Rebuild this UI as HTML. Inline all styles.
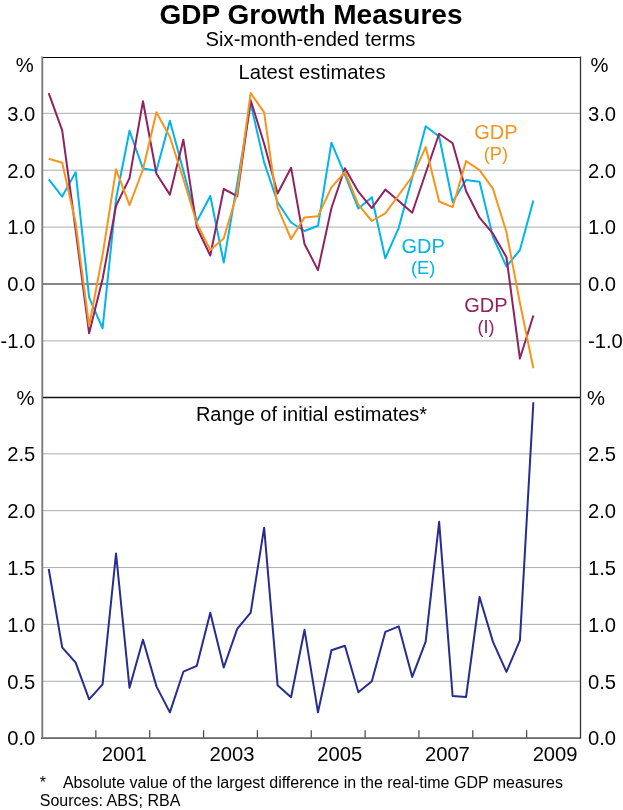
<!DOCTYPE html>
<html><head><meta charset="utf-8"><title>GDP Growth Measures</title>
<style>
html,body{margin:0;padding:0;background:#fff;}
body{width:623px;height:810px;overflow:hidden;}
svg{display:block;font-family:"Liberation Sans", sans-serif;will-change:transform;}
</style></head><body>
<svg width="623" height="810" viewBox="0 0 623 810">
<rect width="623" height="810" fill="#fff"/>
<line x1="42.0" x2="580.5" y1="113.30" y2="113.30" stroke="#A9ADB1" stroke-width="1.0"/>
<line x1="42.0" x2="580.5" y1="170.20" y2="170.20" stroke="#A9ADB1" stroke-width="1.0"/>
<line x1="42.0" x2="580.5" y1="227.10" y2="227.10" stroke="#A9ADB1" stroke-width="1.0"/>
<line x1="42.0" x2="580.5" y1="340.90" y2="340.90" stroke="#A9ADB1" stroke-width="1.0"/>
<line x1="42.0" x2="580.5" y1="284.00" y2="284.00" stroke="#5E5E5E" stroke-width="1.5"/>
<line x1="42.0" x2="580.5" y1="453.85" y2="453.85" stroke="#A9ADB1" stroke-width="1.0"/>
<line x1="42.0" x2="580.5" y1="510.70" y2="510.70" stroke="#A9ADB1" stroke-width="1.0"/>
<line x1="42.0" x2="580.5" y1="567.55" y2="567.55" stroke="#A9ADB1" stroke-width="1.0"/>
<line x1="42.0" x2="580.5" y1="624.40" y2="624.40" stroke="#A9ADB1" stroke-width="1.0"/>
<line x1="42.0" x2="580.5" y1="681.25" y2="681.25" stroke="#A9ADB1" stroke-width="1.0"/>
<line x1="95.85" x2="95.85" y1="730.3" y2="738" stroke="#444" stroke-width="1.2"/>
<line x1="149.70" x2="149.70" y1="730.3" y2="738" stroke="#444" stroke-width="1.2"/>
<line x1="203.55" x2="203.55" y1="730.3" y2="738" stroke="#444" stroke-width="1.2"/>
<line x1="257.40" x2="257.40" y1="730.3" y2="738" stroke="#444" stroke-width="1.2"/>
<line x1="311.25" x2="311.25" y1="730.3" y2="738" stroke="#444" stroke-width="1.2"/>
<line x1="365.10" x2="365.10" y1="730.3" y2="738" stroke="#444" stroke-width="1.2"/>
<line x1="418.95" x2="418.95" y1="730.3" y2="738" stroke="#444" stroke-width="1.2"/>
<line x1="472.80" x2="472.80" y1="730.3" y2="738" stroke="#444" stroke-width="1.2"/>
<line x1="526.65" x2="526.65" y1="730.3" y2="738" stroke="#444" stroke-width="1.2"/>
<polyline fill="none" stroke="#00B5EB" stroke-width="2.00" stroke-linejoin="round" points="48.73,179.30 62.19,196.60 75.66,172.20 89.12,297.40 102.58,328.30 116.04,199.00 129.51,130.80 142.97,168.60 156.43,170.80 169.89,120.70 183.36,170.70 196.82,221.50 210.28,196.00 223.74,262.60 237.21,183.30 250.67,103.60 264.13,162.40 277.59,202.30 291.06,222.50 304.52,231.00 317.98,225.80 331.44,142.70 344.91,174.80 358.37,208.60 371.83,197.20 385.29,258.30 398.76,227.80 412.22,177.40 425.68,126.20 439.14,136.50 452.61,202.00 466.07,180.00 479.53,181.80 492.99,237.00 506.46,266.50 519.92,250.00 533.38,200.50"/>
<polyline fill="none" stroke="#902263" stroke-width="2.00" stroke-linejoin="round" points="48.73,93.20 62.19,130.40 75.66,230.00 89.12,333.30 102.58,279.00 116.04,205.70 129.51,178.10 142.97,101.20 156.43,173.80 169.89,194.60 183.36,139.70 196.82,227.30 210.28,255.50 223.74,189.00 237.21,196.20 250.67,100.20 264.13,143.70 277.59,193.50 291.06,167.70 304.52,244.00 317.98,270.10 331.44,208.00 344.91,168.20 358.37,191.70 371.83,208.10 385.29,189.60 398.76,201.10 412.22,212.70 425.68,173.00 439.14,133.70 452.61,143.30 466.07,191.00 479.53,217.70 492.99,233.70 506.46,257.30 519.92,358.50 533.38,315.50"/>
<polyline fill="none" stroke="#F7941D" stroke-width="2.00" stroke-linejoin="round" points="48.73,158.70 62.19,162.80 75.66,223.00 89.12,326.00 102.58,255.00 116.04,169.30 129.51,205.10 142.97,169.50 156.43,112.20 169.89,137.00 183.36,179.00 196.82,223.30 210.28,250.00 223.74,238.40 237.21,193.00 250.67,93.00 264.13,112.40 277.59,207.40 291.06,239.00 304.52,217.40 317.98,216.30 331.44,187.30 344.91,172.00 358.37,204.60 371.83,221.00 385.29,213.30 398.76,195.00 412.22,176.70 425.68,147.10 439.14,201.50 452.61,207.20 466.07,161.00 479.53,170.20 492.99,188.90 506.46,232.00 519.92,303.00 533.38,368.30"/>
<polyline fill="none" stroke="#272C8F" stroke-width="2.00" stroke-linejoin="round" points="48.73,569.00 62.19,647.30 75.66,662.70 89.12,699.30 102.58,684.30 116.04,553.50 129.51,687.80 142.97,639.80 156.43,686.40 169.89,712.40 183.36,671.70 196.82,665.80 210.28,612.70 223.74,667.50 237.21,628.90 250.67,612.60 264.13,527.70 277.59,685.20 291.06,697.20 304.52,629.80 317.98,712.30 331.44,650.20 344.91,645.80 358.37,692.30 371.83,681.30 385.29,631.90 398.76,626.40 412.22,676.90 425.68,641.60 439.14,521.80 452.61,696.00 466.07,697.00 479.53,597.00 492.99,641.90 506.46,671.80 519.92,640.40 533.38,402.20"/>
<line x1="42.0" x2="580.5" y1="57.5" y2="57.5" stroke="#000" stroke-width="1.2"/>
<line x1="42.0" x2="580.5" y1="397.5" y2="397.5" stroke="#111" stroke-width="1.3"/>
<line x1="41.0" x2="580.5" y1="738.1" y2="738.1" stroke="#666" stroke-width="1.8"/>
<line x1="42.3" x2="42.3" y1="56.4" y2="738.6" stroke="#777" stroke-width="1.8"/>
<line x1="580.5" x2="580.5" y1="56.4" y2="738.6" stroke="#333" stroke-width="1.3"/>
<text x="311.0" y="24.0" font-size="28.0" text-anchor="middle" font-weight="bold" fill="#000">GDP Growth Measures</text>
<text x="310.5" y="46.3" font-size="20.2" text-anchor="middle" font-weight="normal" fill="#000">Six-month-ended terms</text>
<text x="312.0" y="78.8" font-size="20.2" text-anchor="middle" font-weight="normal" fill="#000">Latest estimates</text>
<text x="311.5" y="421.0" font-size="20.0" text-anchor="middle" font-weight="normal" fill="#000">Range of initial estimates*</text>
<text x="35.3" y="120.6" font-size="20.2" text-anchor="end" font-weight="normal" fill="#000">3.0</text>
<text x="588.0" y="120.6" font-size="20.2" text-anchor="start" font-weight="normal" fill="#000">3.0</text>
<text x="35.3" y="177.5" font-size="20.2" text-anchor="end" font-weight="normal" fill="#000">2.0</text>
<text x="588.0" y="177.5" font-size="20.2" text-anchor="start" font-weight="normal" fill="#000">2.0</text>
<text x="35.3" y="234.4" font-size="20.2" text-anchor="end" font-weight="normal" fill="#000">1.0</text>
<text x="588.0" y="234.4" font-size="20.2" text-anchor="start" font-weight="normal" fill="#000">1.0</text>
<text x="35.3" y="291.3" font-size="20.2" text-anchor="end" font-weight="normal" fill="#000">0.0</text>
<text x="588.0" y="291.3" font-size="20.2" text-anchor="start" font-weight="normal" fill="#000">0.0</text>
<text x="35.3" y="348.2" font-size="20.2" text-anchor="end" font-weight="normal" fill="#000">-1.0</text>
<text x="588.0" y="348.2" font-size="20.2" text-anchor="start" font-weight="normal" fill="#000">-1.0</text>
<text x="33.6" y="72.0" font-size="20.2" text-anchor="end" font-weight="normal" fill="#000">%</text>
<text x="590.5" y="72.0" font-size="20.2" text-anchor="start" font-weight="normal" fill="#000">%</text>
<text x="34.4" y="405.0" font-size="20.2" text-anchor="end" font-weight="normal" fill="#000">%</text>
<text x="587.0" y="405.0" font-size="20.2" text-anchor="start" font-weight="normal" fill="#000">%</text>
<text x="35.3" y="461.2" font-size="20.2" text-anchor="end" font-weight="normal" fill="#000">2.5</text>
<text x="588.0" y="461.2" font-size="20.2" text-anchor="start" font-weight="normal" fill="#000">2.5</text>
<text x="35.3" y="518.0" font-size="20.2" text-anchor="end" font-weight="normal" fill="#000">2.0</text>
<text x="588.0" y="518.0" font-size="20.2" text-anchor="start" font-weight="normal" fill="#000">2.0</text>
<text x="35.3" y="574.8" font-size="20.2" text-anchor="end" font-weight="normal" fill="#000">1.5</text>
<text x="588.0" y="574.8" font-size="20.2" text-anchor="start" font-weight="normal" fill="#000">1.5</text>
<text x="35.3" y="631.7" font-size="20.2" text-anchor="end" font-weight="normal" fill="#000">1.0</text>
<text x="588.0" y="631.7" font-size="20.2" text-anchor="start" font-weight="normal" fill="#000">1.0</text>
<text x="35.3" y="688.5" font-size="20.2" text-anchor="end" font-weight="normal" fill="#000">0.5</text>
<text x="588.0" y="688.5" font-size="20.2" text-anchor="start" font-weight="normal" fill="#000">0.5</text>
<text x="35.3" y="745.4" font-size="20.2" text-anchor="end" font-weight="normal" fill="#000">0.0</text>
<text x="588.0" y="745.4" font-size="20.2" text-anchor="start" font-weight="normal" fill="#000">0.0</text>
<text x="124.3" y="760.5" font-size="20.2" text-anchor="middle" font-weight="normal" fill="#000">2001</text>
<text x="232.0" y="760.5" font-size="20.2" text-anchor="middle" font-weight="normal" fill="#000">2003</text>
<text x="339.7" y="760.5" font-size="20.2" text-anchor="middle" font-weight="normal" fill="#000">2005</text>
<text x="447.4" y="760.5" font-size="20.2" text-anchor="middle" font-weight="normal" fill="#000">2007</text>
<text x="555.1" y="760.5" font-size="20.2" text-anchor="middle" font-weight="normal" fill="#000">2009</text>
<text x="495.9" y="139.0" font-size="20.0" text-anchor="middle" font-weight="normal" fill="#F7941D">GDP</text>
<text x="495.9" y="160.0" font-size="18.2" text-anchor="middle" font-weight="normal" fill="#F7941D">(P)</text>
<text x="423.1" y="252.9" font-size="20.0" text-anchor="middle" font-weight="normal" fill="#00B5EB">GDP</text>
<text x="423.1" y="273.8" font-size="18.2" text-anchor="middle" font-weight="normal" fill="#00B5EB">(E)</text>
<text x="485.9" y="311.8" font-size="20.0" text-anchor="middle" font-weight="normal" fill="#902263">GDP</text>
<text x="486.0" y="333.0" font-size="18.2" text-anchor="middle" font-weight="normal" fill="#902263">(I)</text>
<text x="39.8" y="787.8" font-size="16.0" text-anchor="start" font-weight="normal" fill="#000">*</text>
<text x="62.9" y="787.8" font-size="16.0" text-anchor="start" font-weight="normal" fill="#000">Absolute value of the largest difference in the real-time GDP measures</text>
<text x="39.8" y="806.0" font-size="16.0" text-anchor="start" font-weight="normal" fill="#000">Sources: ABS; RBA</text>
</svg>
</body></html>
